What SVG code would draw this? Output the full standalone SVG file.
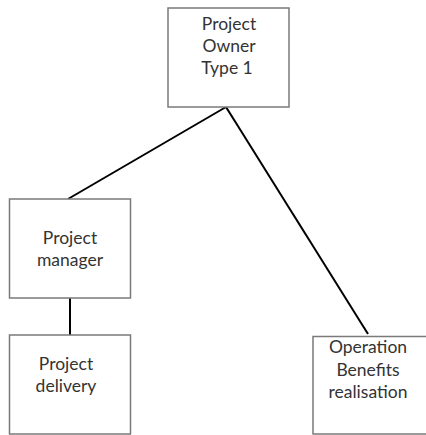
<svg xmlns="http://www.w3.org/2000/svg" width="426" height="435" viewBox="0 0 426 435">
<style>
.box{fill:#fff;stroke:#7a7a7a;stroke-width:1.5}
.lbl{font-family:Lato,"Open Sans",sans-serif;font-size:17.5px;fill:#333;text-anchor:middle}
.conn{stroke:#000;stroke-width:2;fill:none}
</style>
<rect width="426" height="435" fill="#fff"/>
<g id="connectors">
<line class="conn" x1="226" y1="107" x2="68" y2="199"/>
<line class="conn" x1="226" y1="107" x2="368" y2="334"/>
<line class="conn" x1="70" y1="298" x2="70" y2="335"/>
</g>
<g id="owner">
<rect class="box" x="168" y="8" width="121" height="99"/>
<text class="lbl" x="229" y="30">Project</text>
<text class="lbl" x="229" y="52">Owner</text>
<text class="lbl" x="227" y="74">Type 1</text>
</g>
<g id="manager">
<rect class="box" x="9.5" y="199" width="121" height="99"/>
<text class="lbl" x="70" y="244">Project</text>
<text class="lbl" x="70" y="266">manager</text>
</g>
<g id="delivery">
<rect class="box" x="9.5" y="335" width="121" height="99"/>
<text class="lbl" x="66" y="370">Project</text>
<text class="lbl" x="66" y="392">delivery</text>
</g>
<g id="operation">
<rect class="box" x="313" y="336.5" width="120" height="97.5"/>
<text class="lbl" x="368" y="353">Operation</text>
<text class="lbl" x="368" y="376">Benefits</text>
<text class="lbl" x="368" y="398">realisation</text>
</g>
</svg>
